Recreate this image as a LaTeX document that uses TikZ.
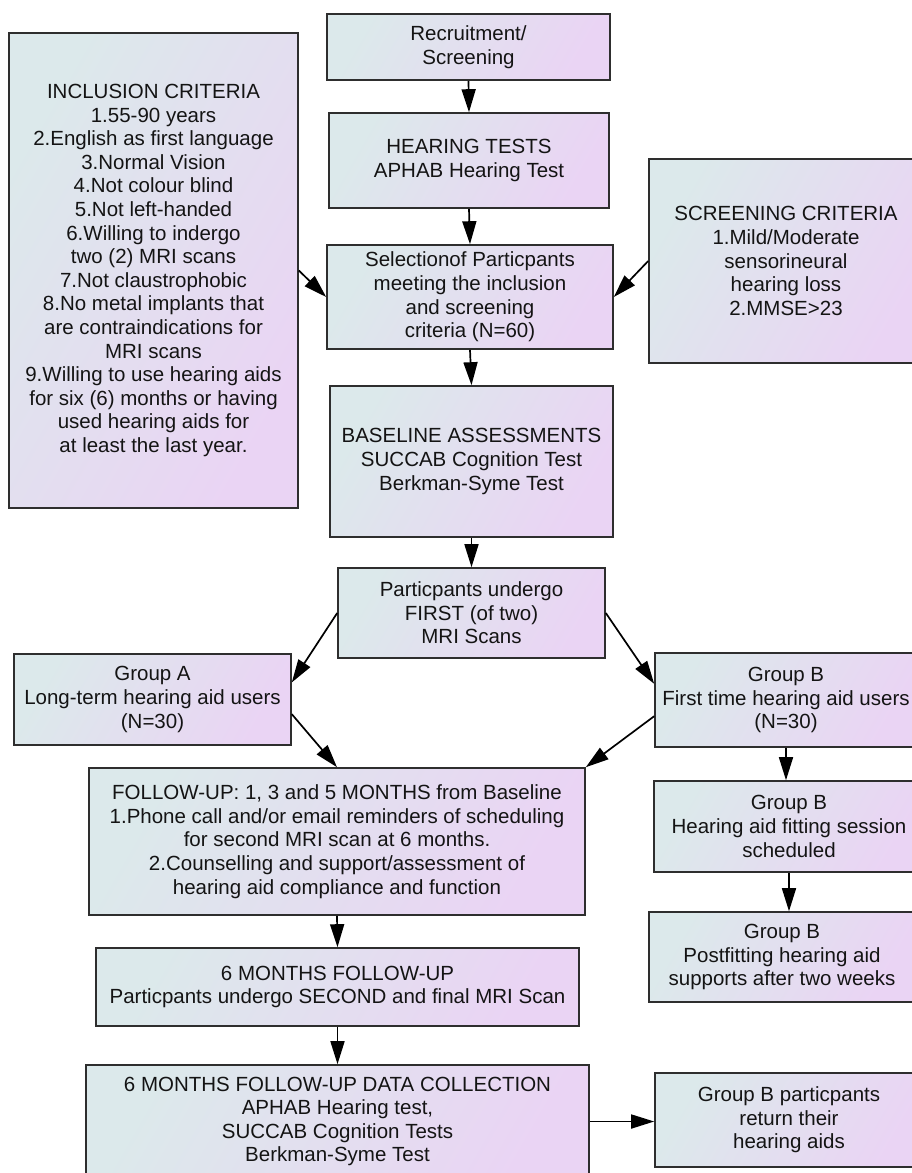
\documentclass[tikz,border=0pt]{standalone}
\usepackage{fontspec}
\setmainfont{Liberation Sans}
\usetikzlibrary{arrows.meta}
\definecolor{cA}{RGB}{220,233,235}
\definecolor{cB}{RGB}{234,212,244}
\begin{document}
\begin{tikzpicture}[x=1pt,y=-1pt,
  box/.style={draw=black!82, line width=1.6pt, top color=cA, bottom color=cB, shading angle=60,
    align=center, inner sep=0pt, font=\fontsize{20.5}{23.6}\selectfont, text=black!92},
  arr/.style={line width=1.7pt, draw=black, -{Triangle[length=23pt,width=14pt]}}]
\useasboundingbox (0,0) rectangle (912,1173);
\clip (0,0) rectangle (912,1173);
\fill[white] (0,0) rectangle (912,1173);

\node[box, minimum width=283pt, minimum height=66pt] (rec) at (468.5,47) {Recruitment/\\Screening};
\node[box, minimum width=280pt, minimum height=95pt] (hear) at (469,160.5) {HEARING TESTS\\APHAB Hearing Test};
\node[box, minimum width=289pt, minimum height=475pt] (inc) at (153.5,270.5) {INCLUSION CRITERIA\\1.55-90 years\\2.English as first language\\3.Normal Vision\\4.Not colour blind\\5.Not left-handed\\6.Willing to indergo\\two (2) MRI scans\\7.Not claustrophobic\\8.No metal implants that\\are contraindications for\\MRI scans\\9.Willing to use hearing aids\\for six (6) months or having\\used hearing aids for\\at least the last year.};
\node[box, minimum width=274pt, minimum height=204pt] (scr) at (786,261) {SCREENING CRITERIA\\1.Mild/Moderate\\sensorineural\\hearing loss\\2.MMSE>23};
\node[box, minimum width=286pt, minimum height=104pt] (sel) at (470,297) {Selectionof Particpants\\meeting the inclusion\\and screening\\criteria (N=60)};
\node[box, minimum width=283pt, minimum height=151pt] (base) at (471.5,461.5) {BASELINE ASSESSMENTS\\SUCCAB Cognition Test\\Berkman-Syme Test};
\node[box, minimum width=267pt, minimum height=90pt] (first) at (471.5,613) {Particpants undergo\\FIRST (of two)\\MRI Scans};
\node[box, minimum width=277pt, minimum height=91pt] (ga) at (152.5,699.5) {Group A\\Long-term hearing aid users\\(N=30)};
\node[box, minimum width=262pt, minimum height=94pt] (gb) at (786,700) {Group B\\First time hearing aid users\\(N=30)};
\node[box, minimum width=496pt, minimum height=147pt] (fu) at (337,841.5) {FOLLOW-UP: 1, 3 and 5 MONTHS from Baseline\\1.Phone call and/or email reminders of scheduling\\for second MRI scan at 6 months.\\2.Counselling and support/assessment of\\hearing aid compliance and function};
\node[box, minimum width=270pt, minimum height=91pt] (fit) at (789,826.5) {Group B\\Hearing aid fitting session\\scheduled};
\node[box, minimum width=266pt, minimum height=90pt] (post) at (782,957) {Group B\\Postfitting hearing aid\\supports after two weeks};
\node[box, minimum width=483pt, minimum height=78pt] (six) at (337.5,987) {6 MONTHS FOLLOW-UP\\Particpants undergo SECOND and final MRI Scan};
\node[box, minimum width=503pt, minimum height=113pt] (data) at (337.5,1121.5) {6 MONTHS FOLLOW-UP DATA COLLECTION\\APHAB Hearing test,\\SUCCAB Cognition Tests\\Berkman-Syme Test};
\node[box, minimum width=268pt, minimum height=94pt] (ret) at (789,1120) {Group B particpants\\return their\\hearing aids};

\draw[arr] (rec.south) -- (hear.north);
\draw[arr] (hear.south) -- (sel.north);
\draw[arr] (inc.east) -- (sel.west);
\draw[arr] (scr.west) -- (sel.east);
\draw[arr] (sel.south) -- (base.north);
\draw[arr] (base.south) -- (first.north);
\draw[arr] (first.west) -- (ga.7);
\draw[arr] (first.east) -- (gb.173);
\draw[arr] (ga.-6) -- (fu.north);
\draw[arr] (gb.187) -- (fu.north east);
\draw[arr] (gb.south) -- (gb.south |- fit.north);
\draw[arr] (fit.south) -- (fit.south |- post.north);
\draw[arr] (fu.south) -- (six.north);
\draw[arr] (six.south) -- (data.north);
\draw[arr] (data.east) -- (data.east -| ret.west);
\end{tikzpicture}
\end{document}
